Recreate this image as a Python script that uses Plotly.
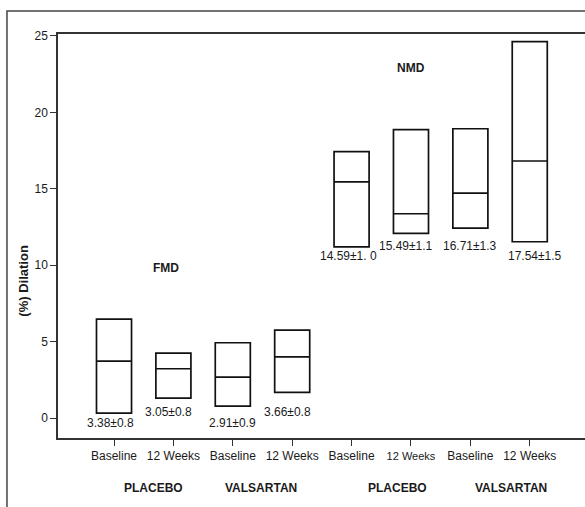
import plotly.graph_objects as go

# ---- data ----
tick_labels = ["Baseline", "12 Weeks", "Baseline", "12 Weeks",
               "Baseline", '<span style="font-size:11px">12 Weeks</span>', "Baseline", "12 Weeks"]
positions = [1, 2, 3, 4, 5, 6, 7, 8]
lower = [0.33, 1.31, 0.78, 1.68, 11.21, 12.09, 12.43, 11.54]
median = [3.73, 3.23, 2.68, 4.01, 15.46, 13.37, 14.72, 16.82]
upper = [6.48, 4.25, 4.93, 5.76, 17.43, 18.87, 18.93, 24.63]
value_labels = ["3.38±0.8", "3.05±0.8", "2.91±0.9", "3.66±0.8",
                "14.59±1. 0", "15.49±1.1", "16.71±1.3", "17.54±1.5"]
label_x = [0.94, 1.92, 2.99, 3.92, 4.95, 5.92, 7.0, 8.08]
label_y = [-0.33, 0.39, -0.33, 0.39, 10.6, 11.26, 11.26, 10.6]
groups = ["PLACEBO", "VALSARTAN", "PLACEBO", "VALSARTAN"]
group_x = [1.66, 3.47, 5.77, 7.69]
measures = ["FMD", "NMD"]
measure_x = [1.87, 6.0]
measure_y = [9.82, 22.9]

FONT = "Liberation Sans, Arial, sans-serif"
INK = "#1a1a1a"

fig = go.Figure()
fig.add_trace(go.Box(
    x=positions, q1=lower, median=median, q3=upper,
    lowerfence=lower, upperfence=upper,
    width=0.59, fillcolor="rgba(255,255,255,0)",
    line=dict(color="#111111", width=1.7),
    boxpoints=False, hoverinfo="skip", showlegend=False,
))

annotations = []
for x, y, t in zip(label_x, label_y, value_labels):
    annotations.append(dict(x=x, y=y, xref="x", yref="y", text=t, showarrow=False,
                            xanchor="center", yanchor="middle",
                            font=dict(family=FONT, size=12, color=INK)))
for x, y, t in zip(measure_x, measure_y, measures):
    annotations.append(dict(x=x, y=y, xref="x", yref="y", text="<b>%s</b>" % t, showarrow=False,
                            xanchor="center", yanchor="middle",
                            font=dict(family=FONT, size=12, color=INK)))
for x, t in zip(group_x, groups):
    annotations.append(dict(x=x, y=-0.124, xref="x", yref="paper", text="<b>%s</b>" % t,
                            showarrow=False, xanchor="center", yanchor="middle",
                            font=dict(family=FONT, size=12, color=INK)))
annotations.append(dict(x=-0.066, y=0.39, xref="paper", yref="paper", text="<b>(%) Dilation</b>",
                        textangle=-90, showarrow=False, xanchor="center", yanchor="middle",
                        font=dict(family=FONT, size=13, color=INK)))

fig.update_layout(
    width=585, height=507,
    margin=dict(l=58, r=0, t=34, b=69),
    paper_bgcolor="white", plot_bgcolor="white",
    font=dict(family=FONT, size=12, color=INK),
    annotations=annotations,
    xaxis=dict(range=[0.057, 8.93], tickvals=positions, ticktext=tick_labels,
               showgrid=False, zeroline=False, showline=True, linecolor="#333333",
               linewidth=1.5, mirror=True, ticks="outside", ticklen=6, tickcolor="#333333",
               tickwidth=1.2, tickfont=dict(family=FONT, size=12, color=INK)),
    yaxis=dict(range=[-1.3, 25.13], tickvals=[0, 5, 10, 15, 20, 25],
               showgrid=False, zeroline=False, showline=True, linecolor="#333333",
               linewidth=1.5, ticks="outside", ticklen=6, tickcolor="#333333",
               tickwidth=1.2, tickfont=dict(family=FONT, size=12, color=INK)),
    shapes=[dict(type="path", xref="paper", yref="paper",
                 path="M -0.0968,-0.3 L -0.0968,1.057 L 1.05,1.057",
                 line=dict(color="#444444", width=1.5))],
)

fig.write_html("out.html", config={"displayModeBar": False},
               post_script="document.body.style.margin='0';document.body.style.overflow='hidden';")
